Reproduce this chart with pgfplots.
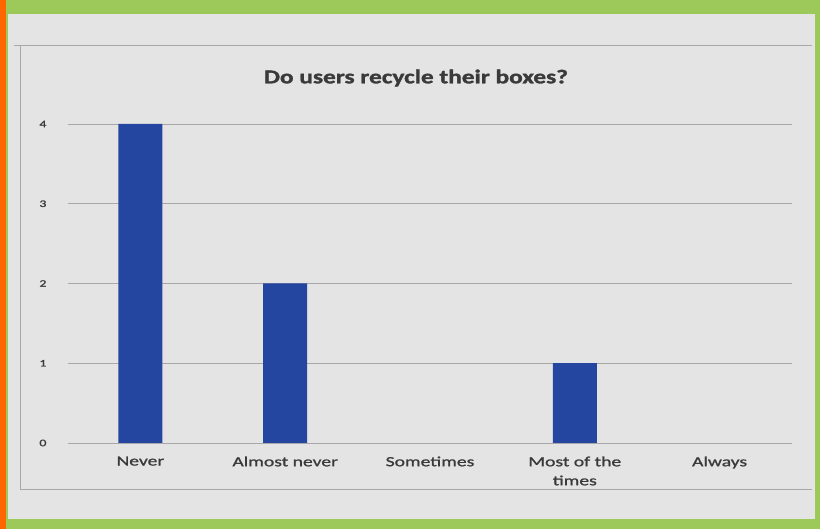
\documentclass[border=0pt]{standalone}
\usepackage{pgfplots}
\pgfplotsset{compat=1.18}
\usepackage{fontspec}
\setmainfont{Carlito}
\newfontfamily\chartfont[FakeStretch=1.4,FakeBold=1.2]{Carlito}
\newfontfamily\titlefont[FakeStretch=1.3,FakeBold=1.5]{Carlito}
\definecolor{bgreen}{HTML}{9DC95A}
\definecolor{paper}{HTML}{E4E4E4}
\definecolor{barblue}{HTML}{2445A0}
\definecolor{gridgray}{HTML}{A8A8A8}
\definecolor{txt}{HTML}{3A3A3A}
\begin{document}
\begin{tikzpicture}[x=1pt,y=1pt]
\useasboundingbox (0,0) rectangle (820,529);
\fill[bgreen] (0,0) rectangle (820,529);
\fill[orange!80!red] (0,0) rectangle (6,529);
\fill[paper] (8,10) rectangle (815,515);
\draw[gridgray,line width=0.8pt] (14,484) -- (812,484);
\draw[gridgray,line width=0.8pt] (20,40) -- (812,40);
\draw[gridgray,line width=0.8pt] (20,40) -- (20,484);
\node[font=\titlefont\bfseries\fontsize{19.5}{22}\selectfont,text=txt] at (416,451) {Do users recycle their boxes?};
\begin{axis}[
  at={(68pt,86pt)}, anchor=south west,
  scale only axis,
  width=724pt, height=319pt,
  xmin=-0.5, xmax=4.5,
  ymin=0, ymax=4,
  ytick={0,1,2,3,4},
  xtick={0,1,2,3,4},
  xticklabels={Never,Almost never,Sometimes,{Most of the\\times},Always},
  xticklabel style={align=center,font=\chartfont\fontsize{14}{19}\selectfont,text=txt,yshift=-10pt},
  yticklabel style={font=\chartfont\fontsize{10}{12}\selectfont,text=txt,xshift=-18pt},
  /pgf/number format/assume math mode=true,
  axis line style={draw=none},
  major tick length=0pt,
  ymajorgrids,
  grid style={gridgray,line width=0.8pt},
  ybar, bar width=44pt,
]
\addplot[fill=barblue,draw=none,restrict y to domain=0.01:10] coordinates {(0,4) (1,2) (2,0) (3,1) (4,0)};
\end{axis}
\end{tikzpicture}
\end{document}
